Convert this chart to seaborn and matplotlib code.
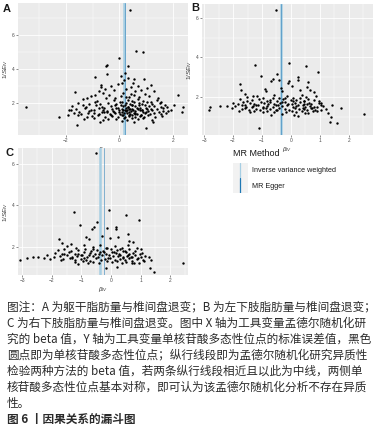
import numpy as np
import pandas as pd
import matplotlib
matplotlib.use('Agg')
import matplotlib.pyplot as plt
import seaborn as sns

# ---- panel A: trunk fat mass vs disc degeneration ----
a_beta = [0.40, 0.61, 0.88, 0.00, -0.50, -0.46, 0.34, -0.45, 0.21, -0.91, 0.05, 0.18, 0.34, 0.56, 0.52, 0.91,
          -1.68, -3.50, -2.25, -1.58, 0.99, 1.25, 2.20, 2.38, 2.35, 2.03, -1.94, -1.88,
          -0.70, -0.68, -0.75, -0.55, -0.30, -0.20, -0.05, 0.10, 0.15, 0.25, 0.45, 0.60, 0.70, 0.80, 1.05, 1.20,
          1.28, 0.95, -0.90, -1.05, -0.40, 0.05, 0.35, 0.55, 1.10, -1.20, -0.15, 0.75, 1.45, -0.60,
          -1.38, -0.83, -0.52, -0.21, 0.04, 0.31, 0.47, 0.71, 0.90, 1.17, 1.41, 1.57,
          -1.57, -1.13, -0.93, -0.74, -0.44, -0.16, 0.08, 0.23, 0.41, 0.53, 0.74, 0.83, 1.04, 1.22, 1.51, 1.70,
          -1.77, -1.38, -1.24, -0.86, -0.64, -0.33, -0.12, 0.07, 0.14, 0.32, 0.46, 0.58, 0.79, 0.97, 1.12, 1.30, 1.57, 1.78,
          -1.64, -1.28, -1.05, -0.76, -0.57, -0.28, -0.06, 0.11, 0.21, 0.25, 0.37, 0.49, 0.67, 0.84, 1.01, 1.19, 1.42, 1.64, 1.92,
          -1.83, -1.52, -1.13, -0.94, -0.66, -0.47, -0.24, -0.03, 0.13, 0.23, 0.35, 0.43, 0.57, 0.76, 0.89, 1.08, 1.22, 1.47, 1.63, 1.82,
          -1.72, -1.44, -1.16, -0.97, -0.77, -0.56, -0.36, -0.17, 0.04, 0.19, 0.29, 0.38, 0.53, 0.66, 0.81, 0.95, 1.16, 1.28, 1.54, 1.73,
          -1.57, -1.23, -1.02, -0.79, -0.54, -0.26, -0.07, 0.11, 0.21, 0.37, 0.49, 0.60, 0.77, 0.93, 1.07, 1.33, 1.60,
          -1.33, -0.97, -0.63, -0.42, -0.11, 0.16, 0.29, 0.47, 0.69, 0.89, 1.21, -0.74, 0.09, 0.56,
          -0.60, -0.48, -0.20, -0.12, 0.00, 0.10, 0.20, 0.27, 0.32, 0.38, 0.46, 0.52, 0.60, 0.68, 0.72, 0.86, 0.98, 1.05,
          0.15, 0.36, 0.58, -0.30, 0.80, 0.25, 0.43]
a_prec = [7.49, 5.10, 5.02, 4.65, 4.20, 4.22, 4.20, 3.73, 3.80, 3.53, 3.60, 3.35, 3.50, 3.40, 3.17, 3.41,
          2.63, 1.76, 1.16, 0.73, 0.51, 0.86, 2.47, 1.76, 1.47, 1.90, 1.29, 1.60,
          3.05, 2.95, 2.70, 2.85, 2.98, 2.75, 3.10, 3.20, 2.60, 2.85, 2.95, 2.70, 3.00, 2.80, 2.90, 3.05,
          2.70, 2.55, 2.50, 2.40, 2.45, 2.40, 2.35, 2.45, 2.40, 2.30, 2.30, 2.35, 2.30, 2.60,
          2.24, 2.13, 2.29, 2.17, 2.08, 2.21, 2.11, 2.27, 2.14, 2.06, 2.19, 2.09,
          2.03, 1.94, 2.07, 1.97, 2.02, 1.91, 2.06, 1.99, 1.93, 2.08, 1.98, 1.92, 2.05, 1.96, 2.01, 1.91,
          1.82, 1.88, 1.75, 1.86, 1.79, 1.84, 1.74, 1.89, 1.81, 1.77, 1.86, 1.83, 1.74, 1.88, 1.80, 1.85, 1.76, 1.79,
          1.66, 1.72, 1.62, 1.69, 1.74, 1.63, 1.71, 1.67, 1.61, 1.73, 1.68, 1.64, 1.70, 1.61, 1.73, 1.66, 1.63, 1.71, 1.60,
          1.57, 1.50, 1.54, 1.59, 1.48, 1.56, 1.52, 1.47, 1.58, 1.53, 1.49, 1.56, 1.51, 1.58, 1.47, 1.54, 1.59, 1.49, 1.55, 1.51,
          1.42, 1.36, 1.44, 1.39, 1.33, 1.45, 1.37, 1.41, 1.34, 1.44, 1.39, 1.35, 1.43, 1.38, 1.32, 1.41, 1.36, 1.44, 1.37, 1.40,
          1.27, 1.19, 1.24, 1.29, 1.17, 1.25, 1.21, 1.28, 1.18, 1.23, 1.29, 1.16, 1.24, 1.20, 1.27, 1.18, 1.25,
          1.06, 1.13, 1.02, 1.09, 1.04, 1.14, 1.00, 1.11, 1.05, 1.12, 1.03, 0.90, 0.97, 0.86,
          1.62, 1.45, 1.50, 1.93, 1.60, 1.47, 1.91, 1.57, 1.79, 1.63, 1.87, 1.61, 1.44, 1.65, 1.90, 1.58, 1.46, 1.64,
          1.31, 1.29, 1.34, 1.30, 1.27, 2.37, 2.52]

# ---- panel B: left lower limb fat mass ----
b_beta = [-0.51, -1.23, -0.06, 0.53, 0.93, -0.47, -1.03, 0.25, 0.23, -0.62, -0.69, -0.08, -0.11, -1.77, -1.72, 0.59,
          0.56, -0.40, 0.05, -0.90, -0.85, -0.35, -0.30, 0.30, 0.65, 0.80, -2.82, -2.80, -2.44, -2.22, 2.52, 1.73,
          1.39, 1.36, 1.58, 1.27, -1.11, 0.24, -1.60, -1.30, -2.00, -2.05, 1.05, 1.12, 1.40, 1.20, -0.70, -0.30,
          0.10, 0.60, 0.90, -1.40, -1.80,
          -1.52, -1.18, -0.97, -0.58, -0.42, -0.13, 0.08, 0.37, 0.53, 0.87,
          -1.77, -1.53, -1.36, -1.12, -0.83, -0.72, -0.48, -0.27, 0.00, 0.16, 0.44, 0.60, 0.80, 0.98,
          -1.83, -1.64, -1.43, -1.27, -1.03, -0.94, -0.73, -0.60, -0.38, -0.22, 0.02, 0.13, 0.32, 0.46, 0.62, 0.70, 0.97,
          -1.92, -1.68, -1.54, -1.30, -1.20, -0.98, -0.84, -0.63, -0.50, -0.30, -0.14, 0.07, 0.18, 0.40, 0.50, 0.67, 0.78, 1.02,
          -1.58, -1.44, -1.20, -1.07, -0.86, -0.74, -0.53, -0.40, -0.20, -0.07, 0.14, 0.26, 0.46, 0.56, 0.72, 0.83,
          -1.27, -0.96, -0.82, -0.60, -0.47, -0.16, 0.02, 0.16, 0.37, 0.48, 0.77,
          -1.15, -0.95, -0.78, -0.62, -0.45, -0.30, -0.10, 0.08, 0.25, 0.45, 0.55, 0.70, -1.35, -1.60, 0.30, -0.20,
          0.40, 0.90, 1.05, -1.70]
b_prec = [6.40, 3.63, 3.71, 3.55, 3.26, 3.18, 3.04, 3.00, 2.87, 2.90, 2.79, 2.80, 2.70, 2.66, 2.37, 2.74,
          2.50, 2.85, 2.55, 2.40, 2.30, 2.45, 2.30, 2.35, 2.35, 2.25, 1.36, 1.48, 1.56, 1.56, 1.14, 1.45,
          0.99, 0.74, 0.69, 1.19, 0.44, 1.03, 2.15, 2.05, 1.70, 1.45, 1.70, 1.55, 1.60, 1.40, 1.10, 1.15,
          1.10, 1.18, 1.30, 1.25, 1.30,
          1.99, 2.06, 1.93, 2.08, 1.96, 2.03, 1.92, 2.07, 1.97, 2.02,
          1.87, 1.79, 1.85, 1.90, 1.81, 1.84, 1.78, 1.88, 1.82, 1.86, 1.79, 1.89, 1.83, 1.77,
          1.66, 1.74, 1.69, 1.63, 1.72, 1.67, 1.75, 1.64, 1.70, 1.73, 1.62, 1.68, 1.74, 1.65, 1.71, 1.63, 1.69,
          1.53, 1.58, 1.49, 1.56, 1.60, 1.50, 1.55, 1.47, 1.59, 1.52, 1.57, 1.48, 1.54, 1.59, 1.51, 1.55, 1.48, 1.58,
          1.44, 1.36, 1.41, 1.33, 1.43, 1.38, 1.35, 1.42, 1.39, 1.32, 1.44, 1.37, 1.40, 1.34, 1.43, 1.36,
          1.30, 1.22, 1.27, 1.24, 1.31, 1.21, 1.28, 1.23, 1.30, 1.20, 1.26,
          1.61, 1.46, 1.64, 1.94, 1.59, 1.76, 1.63, 1.80, 1.60, 1.77, 1.65, 1.46, 1.50, 1.60, 1.92, 1.95,
          1.43, 1.47, 1.33, 1.41]

# ---- panel C: right lower limb fat mass ----
c_beta = [-0.51, -1.25, -0.06, 0.51, 0.96, -0.46, -1.04, -0.56, -0.65, -0.12, 0.17, 0.16, 0.56, -1.74, -3.07, 2.42,
          1.46, 1.31, -0.17, -1.12, 0.21, 0.70, -1.65, -0.85, -0.75, -0.30, -0.05, 0.25, 0.60, 0.75, -1.35, -2.85,
          -2.62, -2.45, -2.25, -2.05, -2.15, 1.05, 1.15, 1.30, 1.35, 1.10, 0.95,
          -1.48, -1.18, -0.92, -0.62, -0.38, -0.12, 0.12, 0.38, 0.58, 0.88,
          -1.78, -1.58, -1.35, -1.12, -0.88, -0.68, -0.48, -0.22, 0.00, 0.20, 0.40, 0.60, 0.80, 1.02,
          -1.88, -1.65, -1.42, -1.22, -1.02, -0.90, -0.72, -0.55, -0.38, -0.18, 0.02, 0.18, 0.32, 0.50, 0.62, 0.75, 0.98,
          -1.92, -1.72, -1.50, -1.30, -1.15, -0.98, -0.80, -0.62, -0.45, -0.30, -0.10, 0.08, 0.22, 0.40, 0.55, 0.68, 0.82, 1.02,
          -1.62, -1.40, -1.20, -1.02, -0.85, -0.70, -0.52, -0.35, -0.20, -0.02, 0.15, 0.30, 0.46, 0.60, 0.72, 0.88,
          -1.22, -0.95, -0.78, -0.60, -0.42, -0.15, 0.02, 0.20, 0.38, 0.52, 0.78,
          -1.12, -0.92, -0.75, -0.60, -0.42, -0.28, -0.08, 0.10, 0.28, 0.48, 0.58, 0.72, -1.32, -1.58, 0.32, -0.18,
          0.42, 0.92, 1.08, -1.68]
c_prec = [6.52, 3.68, 3.77, 3.55, 3.29, 3.19, 3.05, 2.95, 2.84, 2.92, 2.97, 2.84, 2.60, 2.35, 1.34, 1.23,
          0.77, 0.98, 0.95, 1.15, 1.02, 1.23, 2.20, 2.45, 2.35, 2.50, 2.40, 2.45, 2.30, 2.25, 2.15, 1.45,
          1.50, 1.52, 1.45, 1.40, 1.62, 1.70, 1.55, 1.50, 1.35, 1.30, 1.20,
          2.04, 1.95, 2.09, 1.98, 2.06, 1.93, 2.02, 1.96, 2.08, 1.94,
          1.83, 1.89, 1.78, 1.86, 1.91, 1.80, 1.85, 1.76, 1.88, 1.82, 1.79, 1.87, 1.81, 1.90,
          1.71, 1.64, 1.73, 1.67, 1.62, 1.74, 1.69, 1.65, 1.72, 1.63, 1.75, 1.68, 1.61, 1.73, 1.66, 1.70, 1.64,
          1.50, 1.56, 1.59, 1.48, 1.54, 1.58, 1.49, 1.55, 1.51, 1.60, 1.47, 1.53, 1.57, 1.49, 1.56, 1.52, 1.59, 1.50,
          1.39, 1.44, 1.35, 1.42, 1.37, 1.31, 1.43, 1.36, 1.40, 1.45, 1.34, 1.41, 1.38, 1.44, 1.33, 1.40,
          1.25, 1.31, 1.22, 1.28, 1.20, 1.29, 1.24, 1.30, 1.21, 1.27, 1.23,
          1.64, 1.47, 1.60, 1.90, 1.63, 1.79, 1.58, 1.76, 1.65, 1.81, 1.61, 1.50, 1.45, 1.64, 1.88, 1.93,
          1.47, 1.43, 1.37, 1.38]

# MR estimates drawn as vertical lines (A, B, C)
methods = ['Inverse variance weighted', 'MR Egger']
ivw_beta = [0.19, -0.34, -0.37]
egger_beta = [0.20, -0.34, -0.24]
method_colors = ['#a6cee3', '#1f78b4']

caption_lines = [
    '图注：A 为躯干脂肪量与椎间盘退变；B 为左下肢脂肪量与椎间盘退变；',
    'C 为右下肢脂肪量与椎间盘退变。图中 X 轴为工具变量孟德尔随机化研',
    '究的 beta 值，Y 轴为工具变量单核苷酸多态性位点的标准误差值，黑色',
    '圆点即为单核苷酸多态性位点；纵行线段即为孟德尔随机化研究异质性',
    '检验两种方法的 beta 值，若两条纵行线段相近且以此为中线，两侧单',
    '核苷酸多态性位点基本对称，即可认为该孟德尔随机化分析不存在异质',
    '性。',
]
fig_title = '图 6 丨因果关系的漏斗图'

sns.set_style('darkgrid', {'axes.facecolor': '#EBEBEB', 'grid.color': 'white'})
plt.rcParams['font.family'] = ['Liberation Sans', 'Noto Sans CJK SC', 'DejaVu Sans']
plt.rcParams['mathtext.fontset'] = 'custom'
plt.rcParams['mathtext.rm'] = 'Liberation Sans'
plt.rcParams['mathtext.it'] = 'Liberation Sans:italic'

W, H = 382, 434
fig = plt.figure(figsize=(W / 100, H / 100), dpi=100)


def box(left, top, right, bottom):
    return [left / W, 1 - bottom / H, (right - left) / W, (bottom - top) / H]


panels = [
    dict(label='A', beta=a_beta, prec=a_prec, rect=box(18, 3, 188, 135), lab=(3, 9),
         xlim=(-3.8, 2.57), ylim=(0.12, 7.9), xt=[-2, 0, 2], xm=[-3, -1, 1], yt=[2, 4, 6], ym=[1, 3, 5, 7]),
    dict(label='B', beta=b_beta, prec=b_prec, rect=box(202, 4, 373, 135), lab=(191, 8),
         xlim=(-3.07, 2.83), ylim=(0.07, 6.7), xt=[-3, -2, -1, 0, 1, 2], xm=[-2.5, -1.5, -0.5, 0.5, 1.5, 2.5],
         yt=[2, 4, 6], ym=[1, 3, 5]),
    dict(label='C', beta=c_beta, prec=c_prec, rect=box(18, 148, 188, 275), lab=(5, 153),
         xlim=(-3.14, 2.6), ylim=(0.63, 6.78), xt=[-3, -2, -1, 0, 1, 2], xm=[-2.5, -1.5, -0.5, 0.5, 1.5, 2.5],
         yt=[2, 4, 6], ym=[1, 3, 5]),
]

for i, p in enumerate(panels):
    ax = fig.add_axes(p['rect'])
    df = pd.DataFrame({'beta': p['beta'], 'prec': p['prec']})
    ax.axvline(ivw_beta[i], color=method_colors[0], lw=1.8, zorder=1)
    ax.axvline(egger_beta[i], color=method_colors[1], lw=0.6, alpha=0.6, zorder=1)
    sns.scatterplot(data=df, x='beta', y='prec', color='black', s=3, linewidth=0, ax=ax, zorder=3)
    ax.set_xlim(p['xlim'])
    ax.set_ylim(p['ylim'])
    ax.set_xticks(p['xt'])
    ax.set_xticks(p['xm'], minor=True)
    ax.set_yticks(p['yt'])
    ax.set_yticks(p['ym'], minor=True)
    ax.grid(which='major', color='white', lw=0.6)
    ax.grid(which='minor', color='white', lw=0.3)
    ax.tick_params(which='major', bottom=True, left=True, labelsize=3.5, length=1.5, width=0.4,
                   color='#333333', labelcolor='#4d4d4d', pad=1)
    ax.tick_params(which='minor', length=0)
    for s in ax.spines.values():
        s.set_visible(False)
    ax.set_xlabel(r'$\beta_{IV}$', fontsize=4.5, color='#333333', labelpad=1)
    ax.set_ylabel(r'$1/SE_{IV}$', fontsize=4.5, color='#333333', labelpad=1)
    fig.text(p['lab'][0] / W, 1 - p['lab'][1] / H, p['label'], fontsize=8, fontweight='bold',
             color='#1a1a1a', va='center', ha='left')

# legend built by hand, ggplot style
fig.text(233 / W, 1 - 154 / H, 'MR Method', fontsize=6.5, color='#1a1a1a', va='center')
for j, m in enumerate(methods):
    top = 163 + j * 15
    kax = fig.add_axes(box(233, top, 248, top + 15))
    kax.set_facecolor('#F2F2F2')
    kax.axvline(0.5, color=method_colors[j], lw=0.9)
    kax.set_xlim(0, 1)
    kax.set_xticks([])
    kax.set_yticks([])
    kax.grid(False)
    for s in kax.spines.values():
        s.set_visible(False)
    fig.text(252 / W, 1 - (top + 8) / H, m, fontsize=5.2, color='#1a1a1a', va='center')

# caption
cap_font = ['Noto Sans CJK SC', 'DejaVu Sans']
for k, line in enumerate(caption_lines):
    fig.text(7 / W, 1 - (307 + k * 16.1) / H, line, fontsize=8.4, family=cap_font,
             color='#2b2b2b', va='center', ha='left')
fig.text(7 / W, 1 - 419 / H, fig_title, fontsize=8.4, family=cap_font, fontweight='bold',
         color='#2b2b2b', va='center', ha='left')

fig.savefig('out.png', dpi=100)
